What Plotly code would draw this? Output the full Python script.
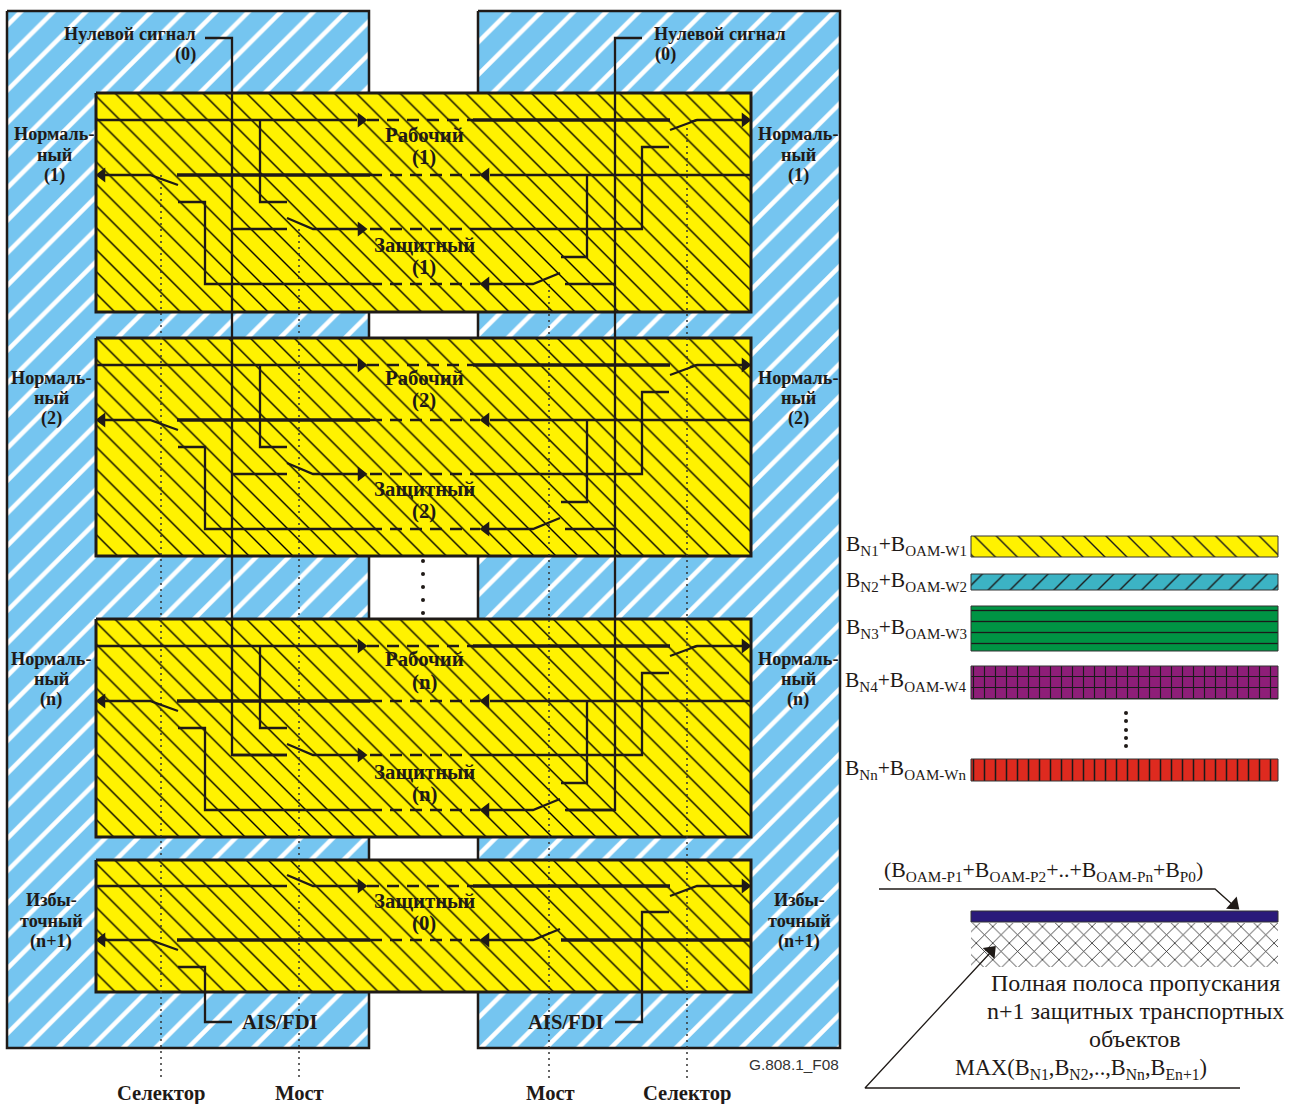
import plotly.graph_objects as go

W, H = 1297, 1104
BLUE = "#75c5f0"; YELLOW = "#fff200"; INK = "#1f1a17"
SERIF = "Liberation Serif"

# ---- panels and boxes (x0, x1, y0, y1 on the picture's own scale)
PANELS = [(7, 369, 11, 1048), (478, 840, 11, 1048)]
BOXES = [(96, 751, 93, 312), (96, 751, 338, 556), (96, 751, 619, 837), (96, 751, 860, 992)]
BOX_TOPS = [93, 338, 619]

# ---- wiring of a working/protection box, y given relative to box top
WIRE_THIN = [
    [(96, 27), (357, 27)],
    [(690, 29), (697, 27), (745, 27)],
    [(100, 82), (150, 82), (178, 92)],
    [(490, 82), (751, 82)],
    [(260, 27), (260, 109), (287, 109)],
    [(233, 136), (287, 136)],
    [(287, 125), (313, 136), (360, 136)],
    [(473, 136), (642, 136), (642, 54), (669, 54)],
    [(178, 109), (205, 109), (205, 191), (370, 191)],
    [(485, 191), (533, 191), (560, 180)],
    [(565, 191), (615, 191)],
    [(587, 82), (587, 164), (561, 164)],
    [(670, 37), (697, 27)],
]
WIRE_THICK = [[(473, 27), (670, 27)], [(177, 82), (370, 82)]]
WIRE_DASH = [[(367, 27), (473, 27)], [(370, 82), (480, 82)], [(370, 136), (473, 136)], [(370, 191), (480, 191)]]
ARROW_R = [(361, 27), (745, 27), (361, 136)]
ARROW_L = [(102, 82), (486, 82), (486, 191)]

# ---- last box (spare), absolute
LAST_THIN = [
    [(96, 886), (287, 886)],
    [(287, 875), (313, 886), (360, 886)],
    [(670, 896), (697, 886), (745, 886)],
    [(100, 940), (150, 940), (178, 950)],
    [(485, 940), (533, 940), (560, 929)],
    [(178, 967), (205, 967), (205, 1022), (232, 1022)],
    [(615, 1022), (642, 1022), (642, 912), (669, 912)],
]
LAST_THICK = [[(473, 886), (670, 886)], [(177, 940), (370, 940)], [(561, 940), (751, 940)]]
LAST_DASH = [[(367, 886), (473, 886)], [(370, 940), (480, 940)]]
LAST_ARROW_R = [(361, 886), (745, 886)]
LAST_ARROW_L = [(102, 940), (486, 940)]

# ---- null signal feeds
NULL_WIRES = [
    [(205, 38), (232, 38), (232, 755), (287, 755)],
    [(642, 38), (615, 38), (615, 810), (566, 810)],
]
# ---- dotted vertical reference lines
DOTTED = [[(161, 175), (161, 1080)], [(299, 229), (299, 1080)],
          [(549, 284), (549, 1080)], [(687, 128), (687, 1078)]]

# ---- bandwidth strips
STRIP_X = (971, 1278)
STRIP_Y = [(536, 557), (574, 590), (606, 651), (666, 699), (759, 781), (911, 922), (923, 967)]
STRIP_BG = ["#fff200", "#3cb3c4", "#009444", "#8e1e78", "#de2a1f", "#2a1a7a", "#ffffff"]
STRIP_SHAPE = ["\\", "/", "-", "+", "|", "", "x"]
STRIP_SIZE = [15.5, 15.5, 11, 11, 11, 10, 11.7]
STRIP_SOLID = [0.09, 0.09, 0.12, 0.2, 0.14, 0.1, 0.13]

# ---- leaders
LEADERS = [[(879, 889), (1215, 889), (1234, 906)], [(1240, 1088), (865, 1088), (990, 953)]]
LEADER_TIPS = [(1234, 905, 41), (991, 951, -47)]
DOTS_X = [423, 423, 423, 423, 423, 1126, 1126, 1126, 1126, 1126]
DOTS_Y = [561, 574, 587, 600, 613, 713, 721, 730, 738, 746]

# ---- texts: text, x, y
CENTER_TEXT = [
    ("Рабочий", 424, 134), ("(1)", 424, 157), ("Защитный", 424, 244), ("(1)", 424, 267),
    ("Рабочий", 424, 377), ("(2)", 424, 400), ("Защитный", 424, 488), ("(2)", 424, 511),
    ("Рабочий", 424, 658), ("(n)", 424, 682), ("Защитный", 424, 771), ("(n)", 424, 794),
    ("Защитный", 424, 900), ("(0)", 424, 923),
]
SIDE_TEXT = [
    ("Нормаль-", 54, 134), ("ный", 54, 155), ("(1)", 54, 175),
    ("Нормаль-", 798, 134), ("ный", 798, 155), ("(1)", 798, 175),
    ("Нормаль-", 51, 378), ("ный", 51, 398), ("(2)", 51, 418),
    ("Нормаль-", 798, 378), ("ный", 798, 398), ("(2)", 798, 418),
    ("Нормаль-", 51, 659), ("ный", 51, 679), ("(n)", 51, 699),
    ("Нормаль-", 798, 659), ("ный", 798, 679), ("(n)", 798, 699),
    ("Избы-", 51, 900), ("точный", 51, 921), ("(n+1)", 51, 941),
    ("Избы-", 799, 900), ("точный", 799, 921), ("(n+1)", 799, 941),
    ("Нулевой сигнал", 130, 34), ("(0)", 185, 54),
    ("Нулевой сигнал", 720, 34), ("(0)", 665, 54),
]
FOOT_TEXT = [("AIS/FDI", 280, 1022), ("AIS/FDI", 566, 1022),
             ("Селектор", 161, 1093), ("Мост", 299, 1093), ("Мост", 550, 1093), ("Селектор", 687, 1093)]
STRIP_LABELS = [
    ("B<sub>N1</sub>+B<sub>OAM-W1</sub>", 969, 545),
    ("B<sub>N2</sub>+B<sub>OAM-W2</sub>", 969, 581),
    ("B<sub>N3</sub>+B<sub>OAM-W3</sub>", 969, 628),
    ("B<sub>N4</sub>+B<sub>OAM-W4</sub>", 969, 681),
    ("B<sub>Nn</sub>+B<sub>OAM-Wn</sub>", 969, 769),
]
NOTE_TEXT = [
    ("(B<sub>OAM-P1</sub>+B<sub>OAM-P2</sub>+..+B<sub>OAM-Pn</sub>+B<sub>P0</sub>)", 1043, 871, 21.8),
    ("Полная полоса пропускания", 1135, 983, 24),
    ("n+1 защитных транспортных", 1135, 1011, 24),
    ("объектов", 1135, 1039, 24),
    ("MAX(B<sub>N1</sub>,B<sub>N2</sub>,..,B<sub>Nn</sub>,B<sub>En+1</sub>)", 1081, 1069, 22.4),
]

fig = go.Figure()


def rect(x0, x1, y0, y1, bg, shape, fg, size, solid, lw=2.5, lc=INK):
    pat = dict(shape=shape, bgcolor=bg, fgcolor=fg, fgopacity=1, size=size, solidity=solid)
    fig.add_trace(go.Scatter(x=[x0, x1, x1, x0, x0], y=[y0, y0, y1, y1, y0], mode="lines",
                             fill="toself", fillcolor=bg, fillpattern=pat,
                             line=dict(color=lc, width=lw), hoverinfo="skip"))


def lines(polys, width, dash="solid", color=INK):
    xs, ys = [], []
    for poly in polys:
        xs += [p[0] for p in poly] + [None]
        ys += [p[1] for p in poly] + [None]
    fig.add_trace(go.Scatter(x=xs, y=ys, mode="lines", hoverinfo="skip",
                             line=dict(color=color, width=width, dash=dash, shape="linear")))


def shift(polys, top):
    return [[(x, y + top) for x, y in poly] for poly in polys]


def arrows(pts, symbol, size=13):
    fig.add_trace(go.Scatter(x=[p[0] for p in pts], y=[p[1] for p in pts], mode="markers", hoverinfo="skip",
                             marker=dict(symbol=symbol, size=size, color=INK, line=dict(width=0))))


for x0, x1, y0, y1 in PANELS:
    rect(x0, x1, y0, y1, BLUE, "/", "#ffffff", 23, 0.2)
for x0, x1, y0, y1 in BOXES:
    rect(x0, x1, y0, y1, YELLOW, "\\", "#000000", 15.5, 0.09, lw=3)

lines(DOTTED, 1.5, "2px,4px", "#333333")
for top in BOX_TOPS:
    lines(shift(WIRE_THIN, top), 2.3)
    lines(shift(WIRE_THICK, top), 3.3)
    lines(shift(WIRE_DASH, top), 2.5, "12px,8px")
    arrows(shift([ARROW_R], top)[0], "triangle-right")
    arrows(shift([ARROW_L], top)[0], "triangle-left")
lines(LAST_THIN, 2.3)
lines(LAST_THICK, 3.3)
lines(LAST_DASH, 2.5, "12px,8px")
arrows(LAST_ARROW_R, "triangle-right")
arrows(LAST_ARROW_L, "triangle-left")
lines(NULL_WIRES, 2.3)

for (y0, y1), bg, sh, sz, so in zip(STRIP_Y, STRIP_BG, STRIP_SHAPE, STRIP_SIZE, STRIP_SOLID):
    rect(STRIP_X[0], STRIP_X[1], y0, y1, bg, sh, "#1a1a1a", sz, so, lw=1, lc="#333333" if sh != "x" else "rgba(0,0,0,0)")

lines(LEADERS, 1.3)
for x, y, ang in LEADER_TIPS:
    fig.add_trace(go.Scatter(x=[x], y=[y], mode="markers", hoverinfo="skip",
                             marker=dict(symbol="triangle-right", size=14, angle=ang, color=INK, line=dict(width=0))))
fig.add_trace(go.Scatter(x=DOTS_X, y=DOTS_Y, mode="markers", hoverinfo="skip",
                         marker=dict(symbol="circle", size=4, color=INK)))


def note(text, x, y, size, bold=True, xanchor="center", family=SERIF, color=INK):
    fig.add_annotation(x=x, y=y, text=f"<b>{text}</b>" if bold else text, showarrow=False, xanchor=xanchor,
                       yanchor="middle", font=dict(family=family, size=size, color=color),
                       xref="x", yref="y")


for t, x, y in CENTER_TEXT:
    note(t, x, y, 20.8)
for t, x, y in SIDE_TEXT:
    note(t, x, y, 18.2)
for t, x, y in FOOT_TEXT:
    note(t, x, y, 20.6)
for t, x, y in STRIP_LABELS:
    note(t, x, y, 21.5, bold=False, xanchor="right")
for t, x, y, s in NOTE_TEXT:
    note(t, x, y, s, bold=False)
note("G.808.1_F08", 841, 1064, 15.4, bold=False, xanchor="right", family="Liberation Sans", color="#333333")

fig.update_layout(width=W, height=H, autosize=False, margin=dict(l=0, r=0, t=0, b=0),
                  paper_bgcolor="#ffffff", plot_bgcolor="#ffffff", showlegend=False,
                  xaxis=dict(range=[0, W], visible=False, fixedrange=True),
                  yaxis=dict(range=[H, 0], visible=False, fixedrange=True))
fig.write_html("out.html", post_script="document.body.style.margin='0';document.body.style.overflow='hidden';",
               config={"displayModeBar": False})
